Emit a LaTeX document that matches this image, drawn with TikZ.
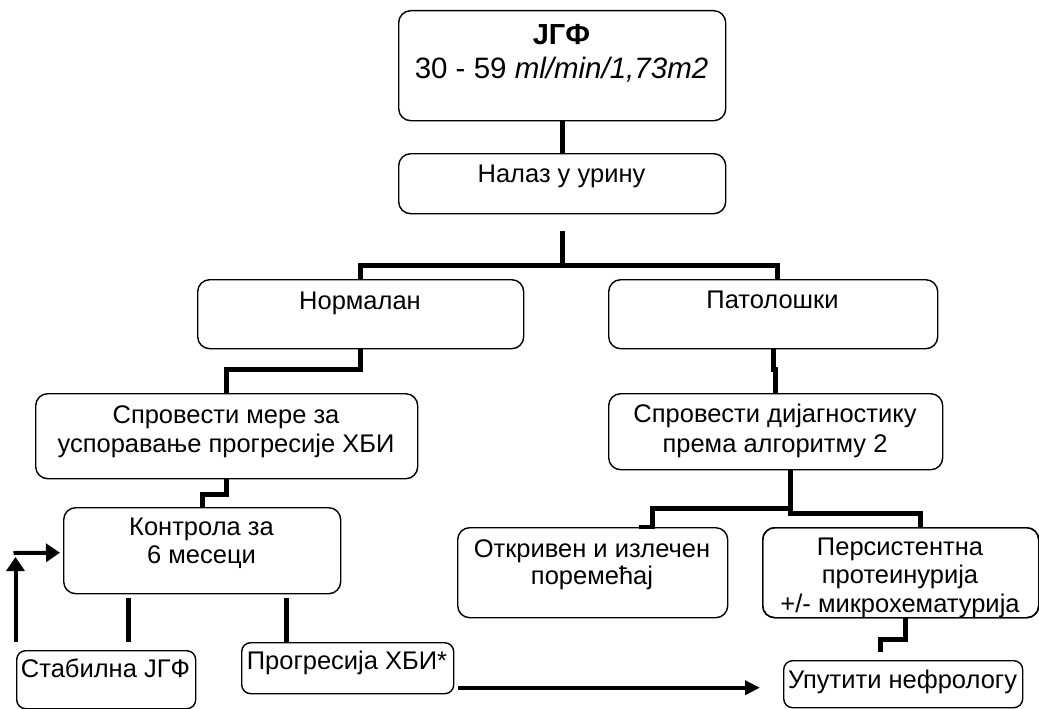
\documentclass[tikz,border=0pt]{standalone}
\usepackage{fontspec}
\setmainfont{Liberation Sans}
\usetikzlibrary{calc,arrows.meta}
\begin{document}
\begin{tikzpicture}[x=1pt,y=-1pt,
  box/.style={draw=black,line width=1.4pt,rounded corners=12pt,inner sep=0pt,anchor=north west},
  sbox/.style={box,rounded corners=9pt},
  txt/.style={anchor=base,inner sep=0pt,font=\fontsize{25.5}{29}\selectfont},
  conn/.style={line width=4.6pt,line join=miter,line cap=butt},
  arr/.style={line width=4pt,-{Triangle[length=15pt,width=14pt]}},
  larr/.style={line width=4pt,-{Triangle[length=14pt,width=18pt]}}]
\path[use as bounding box] (0,0) rectangle (1039,709);
% boxes
\node[box,minimum width=327pt,minimum height=110pt] (top) at (398,10) {};
\node[box,minimum width=327pt,minimum height=60pt] (nal) at (398,153) {};
\node[box,minimum width=326pt,minimum height=69pt] (norm) at (197,279) {};
\node[box,minimum width=329pt,minimum height=69pt] (pat) at (608,279) {};
\node[box,minimum width=382pt,minimum height=85pt] (mere) at (35,393) {};
\node[box,minimum width=334pt,minimum height=76pt] (dij) at (608,393) {};
\node[box,minimum width=277pt,minimum height=86pt] (kon) at (63,507) {};
\node[box,minimum width=270pt,minimum height=90pt] (otk) at (457,527) {};
\node[box,minimum width=276pt,minimum height=90pt] (per) at (762,527) {};
\node[sbox,minimum width=179pt,minimum height=58pt] (stab) at (16,650) {};
\node[sbox,minimum width=212pt,minimum height=51pt] (prog) at (241,642) {};
\node[sbox,minimum width=239pt,minimum height=47pt] (uput) at (783,660) {};
% texts
\node[txt,font=\fontsize{29}{33}\selectfont\bfseries] (topa) at (561.5,45) {ЈГФ};
\node[txt,font=\fontsize{29.5}{33}\selectfont] (topb) at (561.5,78) {30 - 59 \textit{ml/min/1,73m2}};
\node[txt] (nalt) at (561.5,182) {Налаз у урину};
\node[txt] (normt) at (360,309) {Нормалан};
\node[txt] (patt) at (772.5,308) {Патолошки};
\node[txt] (merea) at (226,423) {Спровести мере за};
\node[txt] (mereb) at (226,452) {успоравање прогресије ХБИ};
\node[txt] (dija) at (775,422) {Спровести дијагностику};
\node[txt] (dijb) at (775,452) {према алгоритму 2};
\node[txt] (kona) at (201.5,535) {Контрола за};
\node[txt] (konb) at (201.5,563) {6 месеци};
\node[txt] (otka) at (592,557) {Откривен и излечен};
\node[txt] (otkb) at (592,584) {поремећај};
\node[txt] (pera) at (900,555) {Персистентна};
\node[txt] (perb) at (900,583) {протеинурија};
\begin{scope}
\clip (per.north west) rectangle ($(per.south east)+(0,-2)$);
\node[txt] (perc) at (900,612) {+/- микрохематурија};
\end{scope}
\node[box,minimum width=276pt,minimum height=90pt] at (762,527) {};
\node[txt] (stabt) at (105.5,677) {Стабилна ЈГФ};
\node[txt] (progt) at (347,669) {Прогресија ХБИ*};
\node[txt] (uputt) at (902.5,688) {Упутити нефрологу};
% connectors
\draw[conn] (top.south) -- (nal.south |- nal.north);
\coordinate (j1) at ($(nal.south)+(0,51)$);
\draw[conn] ($(nal.south)+(0,17)$) -- (j1);
\draw[conn] (norm.north) |- (j1) -| ($(pat.north)+(4.5,0)$);
\draw[conn] (norm.south) -- ++(0,20) -| (mere.north);
\draw[conn] (pat.south) -- ++(0,20) -| ($(dij.north)$);
\draw[conn] (mere.south) -- ++(0,15) -| (kon.north);
\draw[conn] ($(dij.south)+(15,0)$) -- ++(0,43) -| ($(per.north)+(20,0)$);
\draw[conn] ($(dij.south)+(15,38)$) -| ($(otk.north)+(60,0)$) -- ++(-14,0);
\draw[conn] ($(per.south)+(5,0)$) -- ++(0,21) -| ($(uput.north)+(-22.5,-8)$);
\draw[conn] ($(kon.south)+(-73.5,4)$) -- ($(stab.north)+(22.5,-8)$);
\draw[conn] ($(kon.south)+(84.5,4)$) -- ($(prog.north)+(-61,0)$);
\draw[arr] ($(prog.east)+(4,19.5)$) -- ($(uput.west)+(-23,3.5)$);
\coordinate (lc) at ($(stab.north west)+(-0.5,-97)$);
\draw[larr] ($(stab.north west)+(-0.5,-8)$) -- ($(lc)+(0,4)$);
\draw[larr] ($(lc)+(-2,0)$) -- ($(kon.west)+(-3,2)$);
\end{tikzpicture}
\end{document}
